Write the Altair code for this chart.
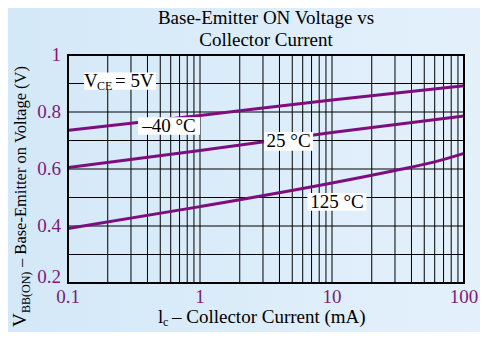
import altair as alt
import pandas as pd

# ---- data ----
current_ma = [0.1, 1, 10, 100]
vbe_m40 = [0.736, 0.788, 0.842, 0.892]
vbe_25 = [0.605, 0.665, 0.728, 0.786]
current_125 = [0.1, 1, 10, 30, 60, 100]
vbe_125 = [0.391, 0.468, 0.551, 0.595, 0.625, 0.655]

x_grid = [0.1, 0.2, 0.3, 0.4, 0.5, 0.6, 0.7, 0.8, 0.9,
          1, 2, 3, 4, 5, 6, 7, 8, 9,
          10, 20, 30, 40, 50, 60, 70, 80, 90, 100]
y_grid = [0.2, 0.3, 0.4, 0.5, 0.6, 0.7, 0.8, 0.9, 1.0]
x_ticks = [0.1, 1, 10, 100]
x_tick_text = ["0.1", "1", "10", "100"]
y_ticks = [0.4, 0.6, 0.8, 1.0]
y_tick_text = ["0.4", "0.6", "0.8", "1"]
y_tick_low = [0.2]
y_tick_low_text = ["0.2"]

ann_text = ["–40 °C", "25 °C", "125 °C"]
ann_x = [0.582, 4.69, 10.9]
ann_y = [0.751, 0.697, 0.4845]
vce_x = [0.248]
vce_y = [0.908]

title_lines = ["Base-Emitter ON Voltage vs", "Collector Current"]

# ---- style ----
W, H = 396, 228
SERIF = "Liberation Serif"
LINE = "#7e0e7e"
LABEL = "#7d1a7d"

lines_df = pd.concat([
    pd.DataFrame({"x": current_ma, "y": vbe_m40, "s": "-40"}),
    pd.DataFrame({"x": current_ma, "y": vbe_25, "s": "25"}),
    pd.DataFrame({"x": current_125, "y": vbe_125, "s": "125"}),
])
xgrid_df = pd.DataFrame({"x": x_grid})
ygrid_df = pd.DataFrame({"y": y_grid})
xt_df = pd.DataFrame({"x": x_ticks, "t": x_tick_text})
yt_df = pd.DataFrame({"y": y_ticks, "t": y_tick_text})
ytl_df = pd.DataFrame({"y": y_tick_low, "t": y_tick_low_text})
ann_df = pd.DataFrame({"x": ann_x, "y": ann_y, "t": ann_text})
vce_df = pd.DataFrame({"x": vce_x, "y": vce_y})
one = pd.DataFrame({"k": [0]})

X = alt.X("x:Q", scale=alt.Scale(type="log", domain=[0.1, 100], nice=False), axis=None)
Y = alt.Y("y:Q", scale=alt.Scale(domain=[0.2, 1.0], nice=False, zero=False), axis=None)

grad = alt.LinearGradient(gradient="linear",
                          stops=[alt.GradientStop(offset=0, color="#d3e8f8"),
                                 alt.GradientStop(offset=1, color="#e4f1fb")],
                          x1=0, x2=1, y1=0, y2=0)

bg = alt.Chart(one).mark_rect(color=grad).encode(
    x=alt.value(-70), x2=alt.value(W + 30), y=alt.value(-60), y2=alt.value(H + 60))

vgrid = alt.Chart(xgrid_df).mark_rule(color="black", strokeWidth=1).encode(x=X)
hgrid = alt.Chart(ygrid_df).mark_rule(color="black", strokeWidth=1).encode(y=Y)

lines = alt.Chart(lines_df).mark_line(color=LINE, strokeWidth=3, interpolate="monotone").encode(
    x=X, y=Y, detail="s:N")

# tick labels
xlabels = alt.Chart(xt_df).mark_text(font=SERIF, fontSize=19, color=LABEL, align="center",
                                     baseline="top").encode(x=X, y=alt.value(H + 5), text="t:N")
ylabels = alt.Chart(yt_df).mark_text(font=SERIF, fontSize=19, color=LABEL, align="right",
                                     baseline="middle").encode(x=alt.value(-7), y=Y, text="t:N")
ylabels_low = alt.Chart(ytl_df).mark_text(font=SERIF, fontSize=19, color=LABEL, align="right",
                                          baseline="middle", dy=-6).encode(x=alt.value(-7), y=Y, text="t:N")

box_shapes = [("M-1,-0.28H1V0.28H-1Z", 62 ** 2), ("M-1,-0.38H1V0.38H-1Z", 49 ** 2), ("M-1,-0.3H1V0.3H-1Z", 59 ** 2)]
boxes = []
for i, (shp, sz) in enumerate(box_shapes):
    boxes.append(alt.Chart(ann_df.iloc[[i]]).mark_point(shape=shp, size=sz, filled=True, fill="white",
                                                       opacity=1, strokeWidth=0).encode(x=X, y=Y))
vce_box = alt.Chart(vce_df).mark_point(shape="M-1,-0.24H1V0.24H-1Z", size=72 ** 2, filled=True,
                                       fill="white", opacity=1, strokeWidth=0).encode(x=X, y=Y)

ann_txt = alt.Chart(ann_df).mark_text(font=SERIF, fontSize=19, color="black", baseline="middle").encode(
    x=X, y=Y, text="t:N")

vce_v = alt.Chart(vce_df).mark_text(font=SERIF, fontSize=19, color="black", align="left",
                                    baseline="middle", dx=-36, text="V").encode(x=X, y=Y)
vce_ce = alt.Chart(vce_df).mark_text(font=SERIF, fontSize=12, color="black", align="left",
                                     baseline="middle", dx=-23, dy=5, text="CE").encode(x=X, y=Y)
vce_eq = alt.Chart(vce_df).mark_text(font=SERIF, fontSize=19, color="black", align="left",
                                     baseline="middle", dx=-5, text="= 5V").encode(x=X, y=Y)

# title lines
tt1 = alt.Chart(one).mark_text(font=SERIF, fontSize=19, color="black", align="center",
                               baseline="alphabetic", text=title_lines[0]).encode(
    x=alt.value(W / 2), y=alt.value(-31))
tt2 = alt.Chart(one).mark_text(font=SERIF, fontSize=19, color="black", align="center",
                               baseline="alphabetic", text=title_lines[1]).encode(
    x=alt.value(W / 2), y=alt.value(-9))

# axis titles made of pieces (for the subscripts)
yt_v = alt.Chart(one).mark_text(font=SERIF, fontSize=19, color="black", angle=270, align="left",
                                baseline="alphabetic", text="V").encode(x=alt.value(-42), y=alt.value(H + 44))
yt_sub = alt.Chart(one).mark_text(font=SERIF, fontSize=12, color="black", angle=270, align="left",
                                  baseline="alphabetic", text="BB(ON)").encode(x=alt.value(-38), y=alt.value(H + 30))
yt_main = alt.Chart(one).mark_text(font=SERIF, fontSize=16.5, color="black", angle=270, align="left",
                                   baseline="alphabetic", text="– Base-Emitter on Voltage (V)").encode(
    x=alt.value(-42), y=alt.value(H - 16))

xt_i = alt.Chart(one).mark_text(font=SERIF, fontSize=19, color="black", align="left",
                                baseline="alphabetic", text="l").encode(x=alt.value(90), y=alt.value(H + 40))
xt_c = alt.Chart(one).mark_text(font=SERIF, fontSize=12, color="black", align="left",
                                baseline="alphabetic", text="c").encode(x=alt.value(95), y=alt.value(H + 43))
xt_main = alt.Chart(one).mark_text(font=SERIF, fontSize=19, color="black", align="left",
                                   baseline="alphabetic", text="– Collector Current (mA)").encode(
    x=alt.value(104), y=alt.value(H + 40))

frame = alt.Chart(one).mark_rect(fill=None, stroke="black", strokeWidth=2).encode(
    x=alt.value(0), x2=alt.value(W), y=alt.value(0), y2=alt.value(H))

chart = alt.layer(
    bg, vgrid, hgrid, lines, *boxes, vce_box, ann_txt, vce_v, vce_ce, vce_eq,
    xlabels, ylabels, ylabels_low,
    tt1, tt2, yt_v, yt_sub, yt_main, xt_i, xt_c, xt_main, frame
).properties(
    width=W, height=H,
    padding={"left": 60, "top": 47, "right": 16, "bottom": 49},
    autosize=alt.AutoSizeParams(type="none"),
    background="#dcecf9",
).configure_view(stroke=None)

chart.save("out.html", embed_options={"renderer": "svg", "actions": False})
